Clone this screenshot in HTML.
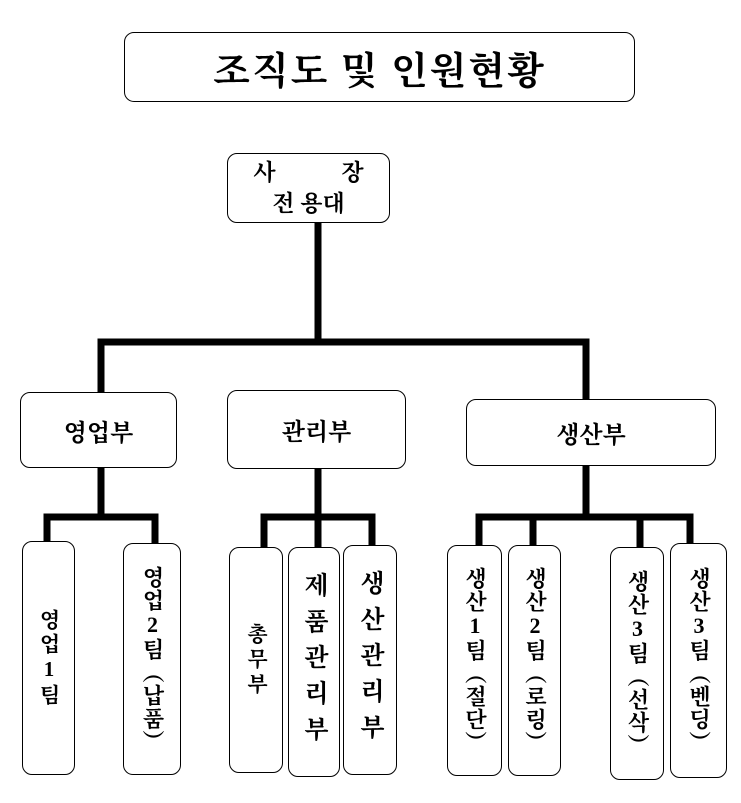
<!DOCTYPE html>
<html><head><meta charset="utf-8"><style>
body{margin:0;width:741px;height:803px;background:#fff;position:relative;overflow:hidden;font-family:"Liberation Serif","Noto Serif CJK SC","Noto Sans CJK KR",serif;color:#000}
.b{position:absolute;border:1.5px solid #000;border-radius:10px;box-sizing:border-box;display:flex;align-items:center;justify-content:center;background:#fff;font-weight:bold}
.v{writing-mode:vertical-rl;text-orientation:upright;font-size:22px;line-height:1}
svg{position:absolute;left:0;top:0}
</style></head><body>
<svg width="741" height="803">
<g stroke="#000" stroke-width="7" fill="none">
<line x1="318" y1="222" x2="318" y2="342"/>
<polyline points="101,392 101,342 586,342 586,400"/>
<line x1="101" y1="466" x2="101" y2="517"/>
<polyline points="47,544 47,517 155,517 155,545"/>
<line x1="318" y1="468" x2="318" y2="548"/>
<polyline points="264,548 264,517 372,517 372,546"/>
<line x1="586" y1="464" x2="586" y2="517"/>
<polyline points="479,546 479,517 690,517 690,544"/>
<line x1="533" y1="517" x2="533" y2="546"/>
<line x1="640" y1="517" x2="640" y2="548"/>
</g></svg>
<div class="b" style="left:124px;top:32px;width:511px;height:70px;font-size:38px;letter-spacing:2px">조직도 및 인원현황</div>
<div class="b" style="left:227px;top:153px;width:163px;height:70px;flex-direction:column;font-size:23px;line-height:31px"><div style="word-spacing:60px">사 장</div><div>전 용대</div></div>
<div class="b" style="left:20px;top:392px;width:157px;height:76px;font-size:24px">영업부</div>
<div class="b" style="left:227px;top:390px;width:179px;height:79px;font-size:24px">관리부</div>
<div class="b" style="left:466px;top:399px;width:250px;height:67px;font-size:24px">생산부</div>
<div class="b" style="left:22px;top:541px;width:53px;height:234px"><span class="v" style="font-size:21px;letter-spacing:3px">영업1팀</span></div>
<div class="b" style="left:123px;top:543px;width:58px;height:232px"><span class="v" style="letter-spacing:1px">영업2팀︵납품︶</span></div>
<div class="b" style="left:229px;top:547px;width:54px;height:226px"><span class="v" style="font-size:21px;letter-spacing:4px">총무부</span></div>
<div class="b" style="left:288px;top:547px;width:52px;height:230px"><span class="v" style="font-size:25px;letter-spacing:11px">제품관리부</span></div>
<div class="b" style="left:343px;top:545px;width:54px;height:230px"><span class="v" style="font-size:25px;letter-spacing:11px">생산관리부</span></div>
<div class="b" style="left:447px;top:545px;width:55px;height:231px"><span class="v" style="letter-spacing:1px">생산1팀︵절단︶</span></div>
<div class="b" style="left:508px;top:545px;width:53px;height:231px"><span class="v" style="letter-spacing:1px">생산2팀︵로링︶</span></div>
<div class="b" style="left:610px;top:547px;width:54px;height:233px"><span class="v" style="letter-spacing:1px">생산3팀︵선삭︶</span></div>
<div class="b" style="left:670px;top:543px;width:57px;height:235px"><span class="v" style="letter-spacing:1px">생산3팀︵벤딩︶</span></div>
</body></html>
